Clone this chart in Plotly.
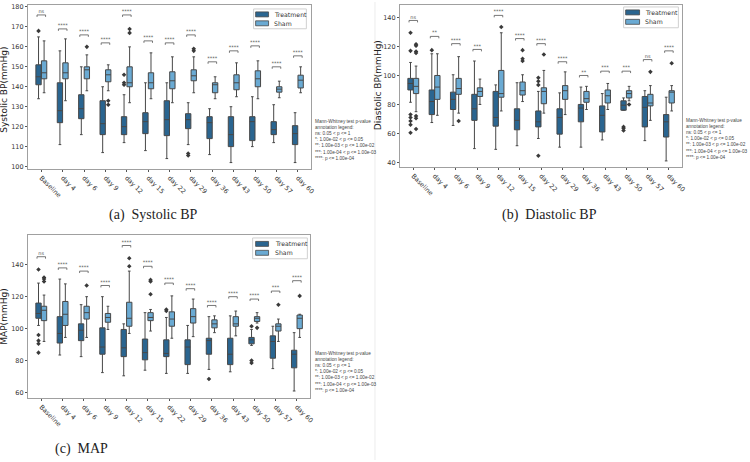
import plotly.graph_objects as go

cats = ["Baseline", "day 4", "day 6", "day 9", "day 12", "day 15", "day 22",
        "day 29", "day 36", "day 43", "day 50", "day 57", "day 60"]

# ---------------- Systolic BP ----------------
sys_t_lo = [134, 111, 116, 107, 112, 108, 104, 111, 106, 102, 110, 112, 102]
sys_t_q1 = [141, 122, 124, 116, 116, 116.5, 115.5, 119, 114, 110, 113, 116, 111]
sys_t_med = [145, 128, 129, 121.5, 120, 122.5, 123.5, 123.5, 122, 116, 122.5, 118.5, 116.5]
sys_t_q3 = [151, 142, 136, 133, 125, 127, 133, 126.5, 125, 125, 125, 122.5, 120.5]
sys_t_hi = [165, 158, 150, 140, 136, 142, 142, 132, 129, 130, 135, 131, 127]
sys_t_out = [[168], [], [], [], [146, 142, 141], [], [], [106.5, 105.5], [], [], [], [], []]
sys_s_lo = [137, 133, 138, 138, 132, 134, 132, 137, 134, 135, 134, 134.5, 137]
sys_s_q1 = [144, 144, 144, 142.5, 140, 139, 139, 143, 137, 138.5, 140, 137.3, 139.4]
sys_s_med = [147, 147, 148.5, 146, 142, 142, 143, 145.5, 141, 142, 144, 138.8, 143.3]
sys_s_q3 = [153, 152, 150, 148.5, 150, 147, 147.5, 148.5, 142, 146, 148, 140, 145.8]
sys_s_hi = [163, 164, 156, 151, 160, 157, 155, 155, 145, 152, 153, 142.8, 150]
sys_s_out = [[], [], [160], [131, 133], [169, 167], [], [], [159, 158], [], [], [], [], []]
sys_sig = ["ns"] + ["****"] * 12
sys_sig_y = [176, 169, 166, 162, 176, 163, 162, 166, 152.5, 158, 160.5, 150, 155.5]

# ---------------- Diastolic BP ----------------
dia_t_lo = [81.5, 67.5, 65.5, 49.5, 49, 51.5, 56.5, 50.5, 50.5, 55.5, 76, 55, 41]
dia_t_q1 = [90, 73, 76.5, 69, 65, 62.5, 64.5, 59.5, 68, 61, 76, 64.5, 57.5]
dia_t_med = [94.5, 82, 83.5, 77, 71, 69, 68, 71, 77.5, 72.5, 79.5, 78, 68]
dia_t_q3 = [98, 90, 88.5, 87, 89, 77, 75.5, 77, 80, 79, 82.5, 85.5, 73]
dia_t_hi = [109, 115, 100.5, 110, 93.5, 95, 89, 88, 92, 87.5, 84.5, 89.5, 85]
dia_t_out = [[129.5, 117, 73, 71, 68.5, 66, 60.5], [117.5], [], [], [], [],
             [98.5, 96, 93.5, 44.5], [], [], [], [64.5, 63.5, 62], [], []]
dia_s_lo = [75, 72.5, 74, 80, 75.5, 82, 74, 73, 76.5, 76.5, 82.5, 69, 75.5]
dia_s_q1 = [87.5, 83.5, 87, 85.5, 85, 86.5, 80.5, 83.5, 81.5, 81, 84.5, 79, 81]
dia_s_med = [92.5, 92, 91, 89, 87.5, 89.5, 89, 89.5, 84, 86, 87.5, 81, 88.5]
dia_s_q3 = [98, 100, 98, 91.5, 103.5, 95.5, 91.5, 93, 89, 90, 89.5, 87, 89.5]
dia_s_hi = [106.5, 115, 113, 97.5, 129.5, 100.5, 103.5, 102.5, 92.5, 94.5, 92.5, 93, 93]
dia_s_out = [[121.5, 120.5, 116.5, 115.5, 72, 70.5, 63], [], [68.5], [], [133.5],
             [117.5, 111.5, 110], [114.5], [], [], [], [80], [102.5], [108.5]]
dia_sig = ["ns", "**", "****", "***", "****", "****", "****", "****", "**", "***", "***", "ns", "****"]
dia_sig_y = [138, 127, 122, 118, 141.5, 125.5, 122, 109.5, 100, 103, 103, 111, 117]

# ---------------- MAP ----------------
map_t_lo = [102, 83.5, 82.5, 72.5, 70.5, 74, 72, 72, 74.5, 73, 89.5, 75, 61]
map_t_q1 = [106.5, 91, 92.5, 84, 82.5, 80.5, 82.5, 77.5, 84, 77.5, 90.5, 81.5, 75.5]
map_t_med = [109.5, 97, 99, 88.5, 88, 85, 84.5, 88.5, 92.5, 84, 93, 92, 84]
map_t_q3 = [116, 107.5, 103, 100.5, 99.5, 93.5, 93, 93, 94, 94, 94.5, 95.5, 86.5]
map_t_hi = [128.5, 131, 115, 120, 103, 110, 107, 102, 107.5, 108, 99.5, 101.5, 97.5]
map_t_out = [[137, 96, 92.5, 90.5, 85], [], [], [], [], [], [112, 111], [], [68.5], [],
             [101.5, 80, 78.5], [], []]
map_s_lo = [92, 94.5, 94.5, 99.5, 97, 98.5, 94, 95, 97.5, 95.5, 103.5, 92, 94.5]
map_s_q1 = [105, 102, 106, 104, 101.5, 105, 101.5, 103.5, 100.5, 101.5, 104.5, 98.5, 100]
map_s_med = [111.5, 109, 110, 107, 106.5, 107, 106, 107.5, 103, 103, 106.5, 101.5, 106.5]
map_s_q3 = [114, 117, 114, 109.5, 116.5, 110, 110.5, 112.5, 105.5, 107.5, 107.5, 103, 108.5]
map_s_hi = [121, 128, 120, 114, 136, 112, 120.5, 118.5, 108, 111, 110, 106, 109]
map_s_out = [[132, 131, 129.5], [], [127], [], [144, 139], [130.5, 129.5, 121.5], [], [], [],
             [], [100.5], [115], [120.5]]
map_sig = ["ns"] + ["****"] * 10 + ["***", "****"]
map_sig_y = [145, 138, 136, 127, 152, 139, 128.5, 125, 114.5, 120, 118.5, 123.5, 130]

groups = ["Treatment", "Sham"]
C_T = "#2a6590"
C_S = "#6aaad3"
EDGE = "#474747"
OFF = 0.13
BW = 0.25
W, H = 750, 462


def px(x):
    return x / W


def py(y):
    return 1 - y / H


fig = go.Figure()

panels = [
    dict(ax="", t=(sys_t_lo, sys_t_q1, sys_t_med, sys_t_q3, sys_t_hi, sys_t_out),
         s=(sys_s_lo, sys_s_q1, sys_s_med, sys_s_q3, sys_s_hi, sys_s_out),
         sig=sys_sig, sigy=sys_sig_y, yr=[99, 181],
         leg=dict(box=(255, 7, 308, 27), patch_x=(257, 270), text_x=273, rows=(12.5, 21.5))),
    dict(ax="2", t=(dia_t_lo, dia_t_q1, dia_t_med, dia_t_q3, dia_t_hi, dia_t_out),
         s=(dia_s_lo, dia_s_q1, dia_s_med, dia_s_q3, dia_s_hi, dia_s_out),
         sig=dia_sig, sigy=dia_sig_y, yr=[37.1, 148.7],
         leg=dict(box=(627, 5, 682, 26), patch_x=(629, 643), text_x=646, rows=(10.5, 20))),
    dict(ax="3", t=(map_t_lo, map_t_q1, map_t_med, map_t_q3, map_t_hi, map_t_out),
         s=(map_s_lo, map_s_q1, map_s_med, map_s_q3, map_s_hi, map_s_out),
         sig=map_sig, sigy=map_sig_y, yr=[56.9, 158.6],
         leg=dict(box=(254, 238, 309, 259), patch_x=(257, 270), text_x=274, rows=(244, 253))),
]

n = len(cats)
shapes = []
anns = []
for p in panels:
    xa, ya = "x" + p["ax"], "y" + p["ax"]
    for gi, (key, col, sgn) in enumerate([("t", C_T, -1), ("s", C_S, 1)]):
        lo, q1, med, q3, hi, outs = p[key]
        pos = [i + sgn * OFF for i in range(n)]
        fig.add_trace(go.Box(
            x=pos, q1=q1, median=med, q3=q3, lowerfence=lo, upperfence=hi,
            width=BW, fillcolor=col, line=dict(color=EDGE, width=1),
            whiskerwidth=0.5, boxpoints=False, showlegend=False, name=groups[gi],
            xaxis=xa, yaxis=ya, hoverinfo="skip"))
        ox, oy = [], []
        for i, o in enumerate(outs):
            for v in o:
                ox.append(i + sgn * OFF)
                oy.append(v)
        fig.add_trace(go.Scatter(
            x=ox, y=oy, mode="markers",
            marker=dict(symbol="diamond", size=3.5, color="#3a3a3a"),
            showlegend=False, xaxis=xa, yaxis=ya, hoverinfo="skip"))
    # significance brackets
    span = p["yr"][1] - p["yr"][0]
    h = span * 0.012
    bx, by, tx, ty = [], [], [], []
    for i, yv in enumerate(p["sigy"]):
        bx += [i - 0.2, i - 0.2, i + 0.2, i + 0.2, None]
        by += [yv - h, yv, yv, yv - h, None]
        tx.append(i)
        ty.append(yv + span * 0.004)
    fig.add_trace(go.Scatter(x=bx, y=by, mode="lines",
                             line=dict(color="#555555", width=0.8),
                             showlegend=False, xaxis=xa, yaxis=ya, hoverinfo="skip"))
    fig.add_trace(go.Scatter(x=tx, y=ty, mode="text", text=p["sig"],
                             textposition="top center",
                             textfont=dict(size=5, color="#555555", family="DejaVu Sans"),
                             showlegend=False, xaxis=xa, yaxis=ya, hoverinfo="skip"))
    # matplotlib-style legend box
    L = p["leg"]
    x0, y0, x1, y1 = L["box"]
    shapes.append(dict(type="rect", xref="paper", yref="paper", x0=px(x0), x1=px(x1),
                       y0=py(y1), y1=py(y0), fillcolor="white",
                       line=dict(color="#d0d0d0", width=1), layer="above"))
    for gi, (col, ry) in enumerate(zip([C_T, C_S], L["rows"])):
        shapes.append(dict(type="rect", xref="paper", yref="paper",
                           x0=px(L["patch_x"][0]), x1=px(L["patch_x"][1]),
                           y0=py(ry + 2.5), y1=py(ry - 2.5), fillcolor=col,
                           line=dict(color=EDGE, width=0.8), layer="above"))
        anns.append(dict(text=groups[gi], x=px(L["text_x"]), y=py(ry), xref="paper",
                         yref="paper", xanchor="left", yanchor="middle", showarrow=False,
                         font=dict(size=6.2, color="#333333", family="DejaVu Sans")))

axis_common = dict(showline=True, mirror=True, linecolor="#a0a0a0", linewidth=1,
                   showgrid=False, zeroline=False, ticks="outside", ticklen=2,
                   tickcolor="#555555", tickfont=dict(size=6.5, color="#333333",
                                                      family="DejaVu Sans"))
xr = [-0.63, 12.63]
xcommon = dict(axis_common, range=xr, tickvals=list(range(n)), ticktext=cats,
               tickangle=45)

fig.update_layout(
    width=W, height=H,
    margin=dict(l=0, r=0, t=0, b=0),
    paper_bgcolor="white", plot_bgcolor="white",
    showlegend=False,
    xaxis=dict(xcommon, domain=[px(28), px(313)], anchor="y"),
    yaxis=dict(axis_common, domain=[py(168), py(3)], range=panels[0]["yr"],
               dtick=10, anchor="x"),
    xaxis2=dict(xcommon, domain=[px(402), px(686)], anchor="y2"),
    yaxis2=dict(axis_common, domain=[py(166), py(3)], range=panels[1]["yr"],
                tickvals=[40, 60, 80, 100, 120, 140], anchor="x2"),
    xaxis3=dict(xcommon, domain=[px(28), px(312)], anchor="y3"),
    yaxis3=dict(axis_common, domain=[py(399), py(235)], range=panels[2]["yr"],
                tickvals=[60, 80, 100, 120, 140], anchor="x3"),
)

mw_text = ("Mann-Whitney test p-value<br>annotation legend:<br>ns: 0.05 &lt; p &lt;= 1<br>"
           "*: 1.00e-02 &lt; p &lt;= 0.05<br>**: 1.00e-03 &lt; p &lt;= 1.00e-02<br>"
           "***: 1.00e-04 &lt; p &lt;= 1.00e-03<br>****: p &lt;= 1.00e-04")

for (xp, yp) in [(315, 116), (688, 115), (315, 350)]:
    anns.append(dict(text=mw_text, x=px(xp), y=py(yp), xref="paper", yref="paper",
                     xanchor="left", yanchor="top", align="left", showarrow=False,
                     font=dict(size=4.7, color="#444444", family="Liberation Sans")))
for (t, xp, yp) in [("Systolic BP(mmHg)", 4.5, 88), ("Diastolic BP(mmHg)", 380, 84),
                    ("MAP(mmHg)", 4.5, 317)]:
    anns.append(dict(text=t, x=px(xp), y=py(yp), xref="paper", yref="paper",
                     xanchor="center", yanchor="middle", textangle=-90, showarrow=False,
                     font=dict(size=9, color="#222222", family="DejaVu Sans")))
for (t, xp, yp) in [("(a)  Systolic BP", 154, 215), ("(b)  Diastolic BP", 552, 215),
                    ("(c)  MAP", 82, 451)]:
    anns.append(dict(text=t, x=px(xp), y=py(yp), xref="paper", yref="paper",
                     xanchor="center", yanchor="middle", showarrow=False,
                     font=dict(size=14, color="#222222", family="Liberation Serif")))

shapes.append(dict(type="line", xref="paper", yref="paper", x0=px(377), x1=px(377),
                   y0=0, y1=1, line=dict(color="#ececec", width=1), layer="below"))
fig.update_layout(annotations=anns, shapes=shapes)

fig.write_html("out.html")
